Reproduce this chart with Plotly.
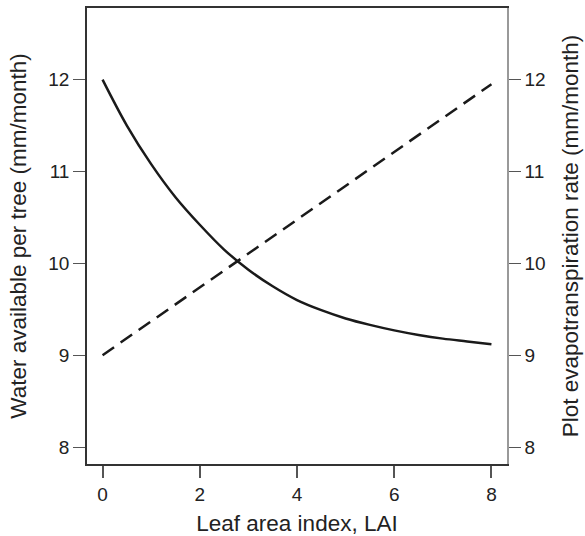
import plotly.graph_objects as go

# Leaf area index values (x)
lai = [0, 0.5, 1, 1.5, 2, 2.5, 3, 3.5, 4, 4.5, 5, 5.5, 6, 6.5, 7, 7.5, 8]
# Water available per tree (mm/month), solid curve, left axis
water_per_tree = [12.00, 11.50, 11.08, 10.72, 10.42, 10.15, 9.93, 9.75, 9.60,
                  9.49, 9.40, 9.33, 9.27, 9.22, 9.18, 9.15, 9.12]
# Plot evapotranspiration rate (mm/month), dashed line, right axis
lai_et = [0, 8]
et_rate = [9.0, 11.95]

x_ticks = [0, 2, 4, 6, 8]
y_ticks = [8, 9, 10, 11, 12]

font_family = "Liberation Sans, Arial, sans-serif"
tick_size = 19
title_size = 22.5

fig = go.Figure()
fig.add_trace(go.Scatter(
    x=lai, y=water_per_tree, mode="lines",
    line=dict(color="#1a1a1a", width=2.5, shape="spline", smoothing=1.0),
    showlegend=False, yaxis="y"))
fig.add_trace(go.Scatter(
    x=lai_et, y=et_rate, mode="lines",
    line=dict(color="#1a1a1a", width=2.5, dash="14px,8px"),
    showlegend=False, yaxis="y2"))

yrange = [7.815, 12.78]

fig.update_layout(
    width=585, height=536,
    margin=dict(l=87, r=78, t=8, b=72),
    paper_bgcolor="white", plot_bgcolor="white",
    font=dict(family=font_family, color="#222222"),
    xaxis=dict(
        range=[-0.32, 8.32], tickvals=x_ticks, showgrid=False, zeroline=False,
        showline=True, linecolor="#333333", linewidth=1.5, mirror=True,
        ticks="outside", ticklen=12, tickcolor="#555555", tickwidth=1.5,
        automargin=False,
        tickfont=dict(size=tick_size, family=font_family, color="#222222"),
        title=dict(text="Leaf area index, LAI", font=dict(size=title_size, family=font_family, color="#222222"), standoff=12),
    ),
    yaxis=dict(
        range=yrange, tickvals=y_ticks, showgrid=False, zeroline=False,
        showline=True, linecolor="#333333", linewidth=1.5,
        ticks="outside", ticklen=12, tickcolor="#555555", tickwidth=1,
        automargin=False,
        tickfont=dict(size=tick_size, family=font_family, color="#222222"),
        title=dict(text="Water available per tree (mm/month)", font=dict(size=title_size, family=font_family, color="#222222"), standoff=15),
    ),
    yaxis2=dict(
        range=yrange, tickvals=y_ticks, showgrid=False, zeroline=False,
        overlaying="y", side="right",
        showline=True, linecolor="#999999", linewidth=1.5,
        ticks="outside", ticklen=12, tickcolor="#555555", tickwidth=1,
        automargin=False,
        tickfont=dict(size=tick_size, family=font_family, color="#222222"),
        title=dict(text="Plot evapotranspiration rate (mm/month)", font=dict(size=title_size, family=font_family, color="#222222"), standoff=18),
    ),
)

fig.write_html("out.html")
